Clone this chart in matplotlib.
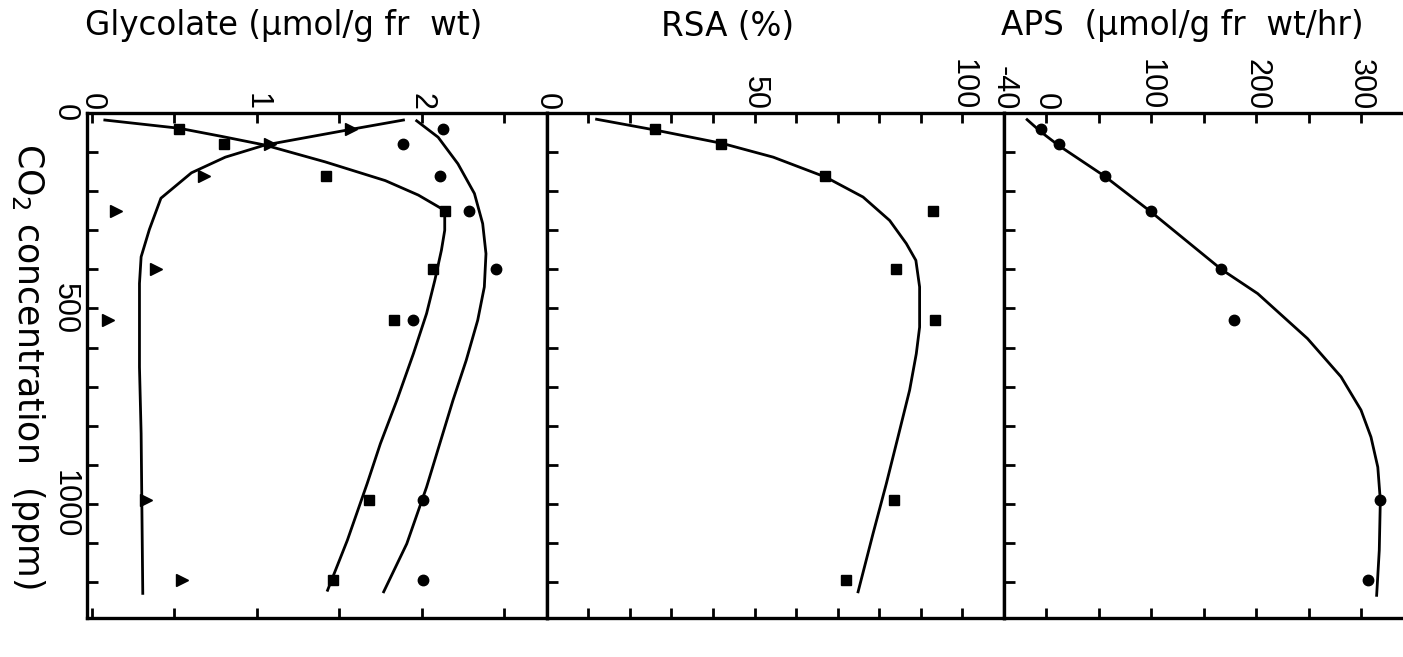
import numpy as np
import matplotlib
matplotlib.use("Agg")
import matplotlib.pyplot as plt

plt.rcParams['font.family'] = ['DejaVu Sans']

# CO2 levels (ppm) of the measured points
co2 = [42, 80, 162, 250, 400, 530, 990, 1195]

# glycolate (umol/g fr wt)
gly_sq = [0.53, 0.80, 1.42, 2.14, 2.07, 1.83, 1.68, 1.46]
gly_ci = [2.13, 1.89, 2.11, 2.29, 2.45, 1.95, 2.01, 2.01]
gly_tr = [1.57, 1.08, 0.68, 0.15, 0.39, 0.10, 0.33, 0.55]

# RSA (%)
rsa = [26, 42, 67, 93, 84, 93.5, 83.5, 72]

# APS (umol/g fr wt/hr)
aps = [-5, 12, 56, 100, 167, 179, 318, 307]

# fitted curves
sq_line_co2 = [18, 39, 60, 82, 125, 173, 210, 242, 250, 300, 351, 428, 513, 616, 735, 846, 948, 1093, 1221]
sq_line = [0.08, 0.53, 0.79, 1.05, 1.415, 1.78, 1.98, 2.11, 2.14, 2.14, 2.12, 2.08, 2.03, 1.95, 1.85, 1.75, 1.67, 1.55, 1.43]

tr_line_co2 = [18, 42, 82, 113, 153, 218, 298, 368, 436, 650, 820, 1229]
tr_line = [1.89, 1.57, 1.05, 0.81, 0.605, 0.42, 0.35, 0.30, 0.29, 0.29, 0.30, 0.31]

ci_line_co2 = [20, 62, 130, 206, 283, 360, 445, 530, 633, 735, 846, 957, 1102, 1225]
ci_line = [1.97, 2.10, 2.22, 2.32, 2.37, 2.39, 2.38, 2.34, 2.27, 2.19, 2.11, 2.03, 1.91, 1.77]

rsa_line_co2 = [16, 43, 78, 113, 164, 215, 275, 334, 377, 445, 548, 616, 709, 829, 948, 1076, 1225]
rsa_line = [12, 25.8, 42.3, 54.5, 67.1, 76.1, 82.5, 86.5, 88.8, 89.7, 89.7, 88.9, 87.3, 84.5, 81.7, 78.5, 74.9]

aps_line_co2 = [17, 48, 83, 162, 253, 400, 462, 577, 675, 760, 829, 906, 991, 1119, 1234]
aps_line = [-18, -5, 12, 56, 100, 167, 201.6, 249, 281, 300, 309.5, 316, 318.4, 317.4, 314.9]

W, H = 1403, 657
fig = plt.figure(figsize=(W / 100, H / 100), dpi=100)


def box(l, r, t, b):
    return [l / W, 1 - b / H, (r - l) / W, (b - t) / H]


ax_g = fig.add_axes(box(87, 546.7, 113, 618))
ax_r = fig.add_axes(box(546.7, 1004, 113, 618))
ax_a = fig.add_axes(box(1004, 1403, 113, 618))

tick_font = dict(fontfamily='Liberation Sans', fontsize=22)

for ax in (ax_g, ax_r, ax_a):
    ax.set_ylim(1292, 0)
    ax.set_yticks(np.arange(0, 1300, 100))
    ax.xaxis.set_ticks_position('both')
    ax.tick_params(axis='x', direction='in', length=7, width=2, top=True, bottom=True,
                   labeltop=True, labelbottom=False, pad=2)
    ax.tick_params(axis='y', direction='in', length=8, width=2, left=True, right=False)
    for s in ax.spines.values():
        s.set_linewidth(2.4)

# glycolate panel
ax_g.plot(sq_line, sq_line_co2, color='black', lw=2)
ax_g.plot(tr_line, tr_line_co2, color='black', lw=2)
ax_g.plot(ci_line, ci_line_co2, color='black', lw=2)
ax_g.plot(gly_sq, co2, 's', color='black', ms=7)
ax_g.plot(gly_ci, co2, 'o', color='black', ms=7.5)
ax_g.plot(gly_tr, co2, '>', color='black', ms=8)
ax_g.set_xlim(-0.028, 2.758)
ax_g.set_xticks([0, 0.5, 1, 1.5, 2, 2.5])
ax_g.set_xticklabels(['0', '', '1', '', '2', ''], rotation=-90, **tick_font)
ax_g.set_yticklabels(['0', '', '', '', '', '500', '', '', '', '', '1000', '', ''],
                     rotation=-90, va='center', **tick_font)
ax_g.tick_params(axis='y', pad=5)

# RSA panel
ax_r.plot(rsa_line, rsa_line_co2, color='black', lw=2)
ax_r.plot(rsa, co2, 's', color='black', ms=7)
ax_r.set_xlim(0, 110)
ax_r.set_xticks(np.arange(0, 110, 10))
ax_r.set_xticklabels(['0', '', '', '', '', '50', '', '', '', '', '100'], rotation=-90, **tick_font)
ax_r.set_yticklabels([])

# APS panel
ax_a.plot(aps_line, aps_line_co2, color='black', lw=2)
ax_a.plot(aps, co2, 'o', color='black', ms=7.5)
ax_a.set_xlim(-40, 340)
ax_a.set_xticks([-40, 0, 50, 100, 150, 200, 250, 300])
ax_a.set_xticklabels(['-40', '0', '', '100', '', '200', '', '300'], rotation=-90, **tick_font)
ax_a.set_yticklabels([])
ax_a.spines['right'].set_visible(False)

# panel titles and CO2 label
fig.text(284 / W, 1 - 25 / H, 'Glycolate (µmol/g fr  wt)', ha='center', va='center', fontsize=23.5)
fig.text(728 / W, 1 - 27 / H, 'RSA (%)', ha='center', va='center', fontsize=23.5)
fig.text(1182 / W, 1 - 26 / H, 'APS  (µmol/g fr  wt/hr)', ha='center', va='center', fontsize=23.5)
fig.text(28 / W, 1 - 366 / H, 'CO$_2$ concentration  (ppm)', ha='center', va='center',
         rotation=-90, fontsize=25)

fig.savefig('out.png', dpi=100)
